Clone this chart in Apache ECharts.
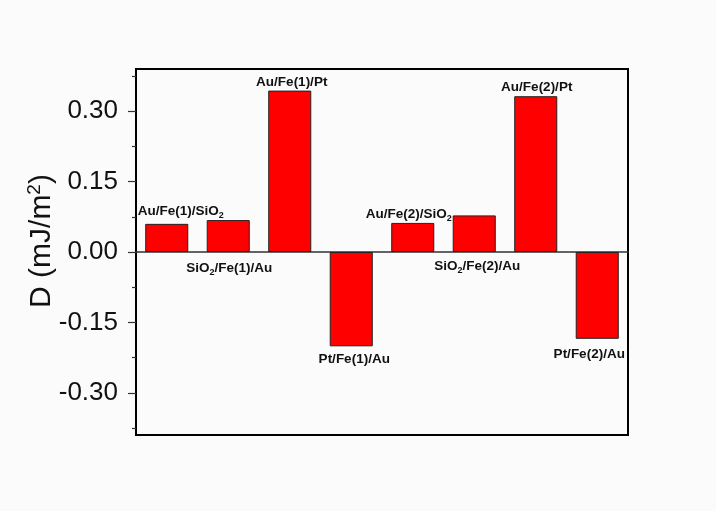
<!DOCTYPE html>
<html>
<head>
<meta charset="utf-8">
<script src="https://cdn.jsdelivr.net/npm/echarts@6/dist/echarts.min.js"></script>
<style>
html,body{margin:0;padding:0;background:#fbfbfb;}
#c{width:716px;height:511px;}
</style>
</head>
<body>
<div id="c"></div>
<script>
// ---- data ----
const categories = ['Au/Fe(1)/SiO2','SiO2/Fe(1)/Au','Au/Fe(1)/Pt','Pt/Fe(1)/Au','Au/Fe(2)/SiO2','SiO2/Fe(2)/Au','Au/Fe(2)/Pt','Pt/Fe(2)/Au'];
const values = [0.060, 0.068, 0.344, -0.201, 0.062, 0.078, 0.332, -0.185];
const majorTicks = [-0.30, -0.15, 0.00, 0.15, 0.30];
const minorTicks = [-0.375, -0.225, -0.075, 0.075, 0.225, 0.375];
const yMin = -0.39, yMax = 0.39;
const axisTitle = '{t|D (mJ/m}{sup|2}{t|)}';

// rich-text label with subscript "2" for SiO2
function richName(name) {
  const parts = name.split('SiO2');
  let out = '';
  parts.forEach((p, i) => {
    if (p) out += '{a|' + p + '}';
    if (i < parts.length - 1) out += '{a|SiO}{s|2}';
  });
  return out;
}

// label placement per bar (styles only)
const labelPlace = [
  {position: 'top', offset: [14, -1]},
  {position: 'bottom', offset: [1, 4]},
  {position: 'top', offset: [2, 4]},
  {position: 'bottom', offset: [3, 1]},
  {position: 'top', offset: [-4, 3]},
  {position: 'bottom', offset: [3, 2]},
  {position: 'top', offset: [1, 3]},
  {position: 'bottom', offset: [-8, 3]}
];

const barData = values.map((v, i) => ({
  value: v,
  label: {
    show: true,
    position: labelPlace[i].position,
    offset: labelPlace[i].offset,
    distance: 3,
    formatter: richName(categories[i])
  }
}));

const chart = echarts.init(document.getElementById('c'), null, {renderer: 'canvas'});
chart.setOption({
  backgroundColor: '#fbfbfb',
  animation: false,
  grid: {
    left: 136, right: 88, top: 69, bottom: 76,
    show: true, borderColor: '#000', borderWidth: 2, backgroundColor: 'transparent'
  },
  xAxis: {
    type: 'category',
    data: categories,
    axisLine: {show: true, onZero: true, lineStyle: {color: '#333', width: 1.5}},
    axisTick: {show: false},
    axisLabel: {show: false},
    splitLine: {show: false}
  },
  yAxis: [
    {
      type: 'value',
      min: yMin, max: yMax,
      position: 'left',
      name: axisTitle,
      nameLocation: 'middle',
      nameGap: 77,
      nameMoveOverlap: false,
      nameTextStyle: {
        fontFamily: 'Liberation Sans', fontSize: 30, color: '#111',
        padding: [0, 0, 0, 22],
        rich: {
          t: {fontFamily: 'Liberation Sans', fontSize: 30, lineHeight: 34, color: '#111'},
          sup: {fontFamily: 'Liberation Sans', fontSize: 19, lineHeight: 19, verticalAlign: 'top', color: '#111'}
        }
      },
      axisLine: {show: true, lineStyle: {color: '#000', width: 1.5}},
      axisTick: {show: true, inside: false, length: 8, customValues: majorTicks, lineStyle: {color: '#333', width: 1.2}},
      axisLabel: {
        show: true, customValues: majorTicks, margin: 18,
        fontFamily: 'Liberation Sans', fontSize: 26, color: '#111',
        formatter: v => v.toFixed(2)
      },
      splitLine: {show: false}
    },
    {
      type: 'value',
      min: yMin, max: yMax,
      position: 'left',
      axisLine: {show: false},
      axisTick: {show: true, inside: false, length: 4, customValues: minorTicks, lineStyle: {color: '#333', width: 1.2}},
      axisLabel: {show: false},
      splitLine: {show: false}
    }
  ],
  series: [{
    type: 'bar',
    data: barData,
    barCategoryGap: '30%',
    itemStyle: {color: '#ff0000', borderColor: '#222', borderWidth: 1},
    label: {
      color: '#111',
      rich: {
        a: {fontFamily: 'Liberation Sans', fontWeight: 'bold', fontSize: 13.5, lineHeight: 18, color: '#111'},
        s: {fontFamily: 'Liberation Sans', fontWeight: 'bold', fontSize: 9, lineHeight: 8, verticalAlign: 'bottom', color: '#111'}
      }
    }
  }]
});
</script>
</body>
</html>
